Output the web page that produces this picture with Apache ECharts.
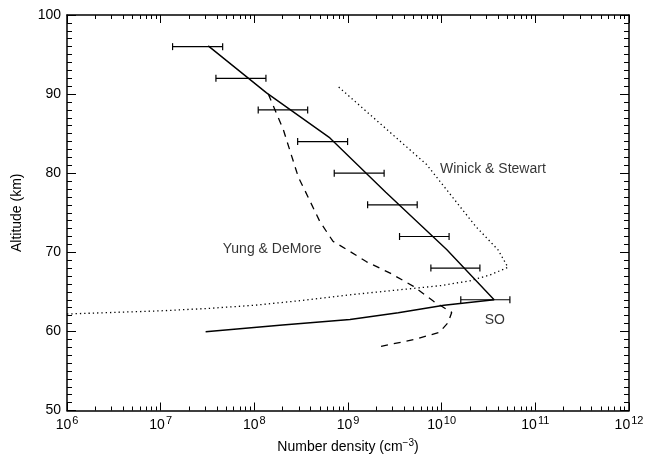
<!DOCTYPE html>
<html><head><meta charset="utf-8">
<script src="https://cdn.jsdelivr.net/npm/echarts@6/dist/echarts.min.js"></script>
<style>html,body{margin:0;padding:0;background:#fff}#c{width:647px;height:459px}</style>
</head><body><div id="c"></div>
<script>
// Altitude (km) of measured points
const barAltitude = [96, 92, 88, 84, 80, 76, 72, 68, 64];
const barLow  = [1.34e7, 3.89e7, 1.10e8, 2.90e8, 7.13e8, 1.62e9, 3.55e9, 7.67e9, 1.60e10];
const barHigh = [4.59e7, 1.33e8, 3.71e8, 9.90e8, 2.43e9, 5.48e9, 1.20e10, 2.56e10, 5.35e10];

// Solid model (SO)
const soDensity  = [3.22e7, 1.35e8, 6.41e8, 2.53e9, 1.13e10, 3.63e10, 1.06e10, 3.44e9, 1.05e9, 2.0e8, 3.02e7];
const soAltitude = [96.1, 90.15, 84.46, 77.6, 70.35, 64.0, 63.3, 62.35, 61.5, 60.8, 59.96];

// Yung & DeMore (dashed)
const ydDensity  = [1.41e8, 2.04e8, 2.95e8, 3.47e8, 5.0e8, 6.9e8, 9.7e8, 1.58e9, 2.82e9, 5.0e9, 8.2e9, 1.28e10, 1.17e10, 9.5e9, 5.4e9, 2.04e9];
const ydAltitude = [90.0, 85.5, 79.5, 77.8, 73.9, 71.4, 70.35, 68.8, 67.36, 65.7, 63.8, 62.4, 61.1, 59.9, 59.05, 58.0];

// Winick & Stewart (dotted)
const wsDensity  = [1e6, 1e7, 3.16e7, 1e8, 3.16e8, 1e9, 3.16e9, 1e10, 2.0e10, 3.3e10, 5.1e10, 4.0e10, 2.3e10, 6.9e9, 7.6e8];
const wsAltitude = [62.2, 62.6, 62.9, 63.3, 63.9, 64.6, 65.2, 65.8, 66.4, 67.15, 68.1, 70.3, 73.3, 81.1, 91.1];

// Text annotations
const annotations = [
  {text: 'Winick & Stewart', x: 9.6e9, y: 80.5, align: 'left'},
  {text: 'Yung & DeMore', x: 4.6e7, y: 70.4, align: 'left'},
  {text: 'SO', x: 3.7e10, y: 61.4, align: 'center'}
];

const xMajor = [1e6, 1e7, 1e8, 1e9, 1e10, 1e11, 1e12];
const xMinor = [];
for (let k = 6; k < 12; k++) for (let m = 2; m <= 9; m++) xMinor.push(m * Math.pow(10, k));

const FONT = 'Liberation Sans';
const zip = (a, b) => a.map((v, i) => [v, b[i]]);

const chart = echarts.init(document.getElementById('c'));
const baseX = {
  type: 'log', min: 1e6, max: 1e12, logBase: 10,
  splitLine: {show: false},
  axisLine: {show: true, lineStyle: {color: '#000', width: 1.5}},
};
const opt = {
  animation: false,
  backgroundColor: '#fff',
  grid: {left: 67, right: 18, top: 15, bottom: 42},
  textStyle: {fontFamily: FONT},
  xAxis: [
    Object.assign({}, baseX, {
      position: 'bottom',
      axisTick: {show: true, inside: true, length: 8, lineStyle: {color: '#000', width: 1}},
      axisLabel: {
        show: true, margin: 5, color: '#000',
        formatter: v => '{b|10}{s|' + Math.round(Math.log10(v)) + '}',
        rich: {b: {fontSize: 14, fontFamily: FONT, color: '#000'},
               s: {fontSize: 11, fontFamily: FONT, color: '#000', padding: [0, 0, 9, 1]}}
      },
      name: 'Number density (cm{s|−3})',
      nameLocation: 'middle', nameGap: 28,
      nameTextStyle: {fontSize: 14, fontFamily: FONT, color: '#000',
        rich: {s: {fontSize: 10, fontFamily: FONT, color: '#000', padding: [0, 0, 7, 0]}}}
    }),
    Object.assign({}, baseX, {
      position: 'bottom', axisLine: {show: false},
      axisTick: {show: true, inside: true, length: 4, customValues: xMinor, lineStyle: {color: '#000', width: 1}},
      axisLabel: {show: false}
    }),
    Object.assign({}, baseX, {
      position: 'top',
      axisTick: {show: true, inside: true, length: 8, lineStyle: {color: '#000', width: 1}},
      axisLabel: {show: false}
    }),
    Object.assign({}, baseX, {
      position: 'top', axisLine: {show: false},
      axisTick: {show: true, inside: true, length: 4, customValues: xMinor, lineStyle: {color: '#000', width: 1}},
      axisLabel: {show: false}
    })
  ],
  yAxis: [
    {
      type: 'value', min: 50, max: 100, interval: 10, position: 'left',
      splitLine: {show: false},
      axisLine: {show: true, lineStyle: {color: '#000', width: 1.5}},
      axisTick: {show: true, inside: true, length: 9, lineStyle: {color: '#000', width: 1}},
      minorTick: {show: true, splitNumber: 10, length: 5, lineStyle: {color: '#000', width: 1}},
      axisLabel: {margin: 6, fontSize: 14, fontFamily: FONT, color: '#000'},
      name: 'Altitude (km)', nameLocation: 'middle', nameGap: 43,
      nameTextStyle: {fontSize: 14, fontFamily: FONT, color: '#000'}
    },
    {
      type: 'value', min: 50, max: 100, interval: 10, position: 'right',
      splitLine: {show: false},
      axisLine: {show: true, lineStyle: {color: '#000', width: 1.5}},
      axisTick: {show: true, inside: true, length: 9, lineStyle: {color: '#000', width: 1}},
      minorTick: {show: true, splitNumber: 10, length: 5, lineStyle: {color: '#000', width: 1}},
      axisLabel: {show: false}
    }
  ],
  series: [
    {
      type: 'line', data: zip(soDensity, soAltitude), symbol: 'none',
      lineStyle: {color: '#000', width: 1.4}
    },
    {
      type: 'line', data: zip(ydDensity, ydAltitude), symbol: 'none',
      lineStyle: {color: '#000', width: 1.3, type: [7, 6]}
    },
    {
      type: 'line', data: zip(wsDensity, wsAltitude), symbol: 'none',
      lineStyle: {color: '#000', width: 1.3, type: [1.3, 3]}
    },
    {
      type: 'custom',
      data: barAltitude.map((a, i) => [barLow[i], barHigh[i], a]),
      encode: {x: [0, 1], y: 2},
      renderItem: function (params, api) {
        const p1 = api.coord([api.value(0), api.value(2)]);
        const p2 = api.coord([api.value(1), api.value(2)]);
        const h = 3.5;
        const st = {stroke: '#000', lineWidth: 1.2};
        return {type: 'group', children: [
          {type: 'line', shape: {x1: p1[0], y1: p1[1], x2: p2[0], y2: p2[1]}, style: st},
          {type: 'line', shape: {x1: p1[0], y1: p1[1] - h, x2: p1[0], y2: p1[1] + h}, style: st},
          {type: 'line', shape: {x1: p2[0], y1: p2[1] - h, x2: p2[0], y2: p2[1] + h}, style: st}
        ]};
      }
    },
    {
      type: 'scatter', symbolSize: 0, itemStyle: {color: '#000'},
      data: annotations.map(a => ({value: [a.x, a.y],
        label: {show: true, formatter: a.text, position: 'inside', align: a.align,
          verticalAlign: 'middle', fontSize: 14, fontFamily: FONT, color: '#000',
          textBorderWidth: 0}}))
    }
  ]
};
chart.setOption(opt);
</script></body></html>
